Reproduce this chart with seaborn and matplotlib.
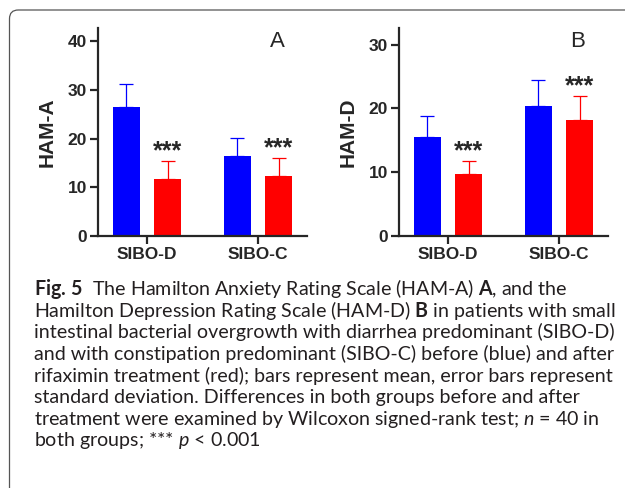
import numpy as np
import pandas as pd
import matplotlib
matplotlib.use("Agg")
import matplotlib.pyplot as plt
from matplotlib.patches import FancyBboxPatch
import seaborn as sns

# values (mean and SD, n = 40 per group)
groups = ["SIBO-D", "SIBO-C"]
phases = ["before", "after"]
ham_a_before = [26.5, 16.5]
ham_a_before_sd = [4.7, 3.7]
ham_a_after = [11.8, 12.4]
ham_a_after_sd = [3.6, 3.7]
ham_d_before = [15.5, 20.3]
ham_d_before_sd = [3.3, 4.1]
ham_d_after = [9.75, 18.15]
ham_d_after_sd = [2.05, 3.85]
stars = ["***", "***"]

caption_lines = [
    r"$\mathbf{Fig.}$$\,$$\mathbf{5}$  The Hamilton Anxiety Rating Scale (HAM-A) $\mathbf{A}$, and the",
    r"Hamilton Depression Rating Scale (HAM-D) $\mathbf{B}$ in patients with small",
    "intestinal bacterial overgrowth with diarrhea predominant (SIBO-D)",
    "and with constipation predominant (SIBO-C) before (blue) and after",
    "rifaximin treatment (red); bars represent mean, error bars represent",
    "standard deviation. Differences in both groups before and after",
    r"treatment were examined by Wilcoxon signed-rank test; $n$ = 40 in",
    "both groups; *** $p$ < 0.001",
]

BLUE = "#0000ff"
RED = "#ff0000"


def make_frame(before, before_sd, after, after_sd):
    return pd.DataFrame({
        "group": groups * 2,
        "phase": [phases[0]] * 2 + [phases[1]] * 2,
        "value": list(before) + list(after),
        "sd": list(before_sd) + list(after_sd),
    })


def draw_panel(ax, df, ylabel, letter, ymax, yticks):
    sns.barplot(data=df, x="group", y="value", hue="phase", order=groups,
                hue_order=phases, palette=[BLUE, RED], width=0.75, gap=0.35,
                errorbar=None, legend=False, ax=ax, linewidth=0, saturation=1)
    # upper-only SD whiskers
    for i, ph in enumerate(phases):
        sub = df[df["phase"] == ph].set_index("group").loc[groups]
        xs = np.arange(len(groups)) + (-0.1875 if i == 0 else 0.1875)
        col = BLUE if i == 0 else RED
        ax.errorbar(xs, sub["value"], yerr=[np.zeros(len(xs)), sub["sd"]],
                    fmt="none", ecolor=col, elinewidth=0.9, capsize=4.7,
                    capthick=0.9, zorder=3)
        if ph == "after":
            for x, top, s in zip(xs, sub["value"] + sub["sd"], stars):
                ax.annotate(s, (x, top), xytext=(0, -2), textcoords="offset points",
                            ha="center", va="bottom", fontsize=18,
                            fontweight="bold", family="Liberation Sans")
    ax.set_xlim(-0.441, 1.441)
    ax.set_ylim(0, ymax)
    ax.set_yticks(yticks)
    ax.set_xlabel("")
    ax.set_ylabel(ylabel, fontsize=15, fontweight="bold", labelpad=8)
    sns.despine(ax=ax)
    for sp in ["left", "bottom"]:
        ax.spines[sp].set_linewidth(1.6)
    ax.tick_params(axis="both", width=1.6, length=6, labelsize=12.5, pad=2)
    for lab in ax.get_xticklabels() + ax.get_yticklabels():
        lab.set_fontweight("bold")
    ax.text(0.856, 0.935, letter, transform=ax.transAxes, ha="center",
            va="center", fontsize=16)


sns.set_style("ticks")
plt.rcParams["font.family"] = ["Liberation Sans", "DejaVu Sans"]
plt.rcParams["mathtext.fontset"] = "custom"
plt.rcParams["mathtext.rm"] = "Lato"
plt.rcParams["mathtext.it"] = "Lato:italic"
plt.rcParams["mathtext.bf"] = "Lato:bold"

fig = plt.figure(figsize=(6.25, 4.88), dpi=100)
W, H = 625, 488

ax_a = fig.add_axes([98 / W, 1 - 236 / H, 209 / W, 208 / H])
ax_b = fig.add_axes([399 / W, 1 - 236 / H, 209 / W, 208 / H])

draw_panel(ax_a, make_frame(ham_a_before, ham_a_before_sd, ham_a_after, ham_a_after_sd),
           "HAM-A", "A", 42.7, [0, 10, 20, 30, 40])
draw_panel(ax_b, make_frame(ham_d_before, ham_d_before_sd, ham_d_after, ham_d_after_sd),
           "HAM-D", "B", 32.6, [0, 10, 20, 30])

# caption
for k, line in enumerate(caption_lines):
    fig.text(34 / W, 1 - (289 + 21.7 * k) / H, line, ha="left", va="center",
             fontsize=14.1, family="Lato", color="#231f20")

# rounded frame, open to the right and bottom
frame = FancyBboxPatch((9.5 / W, -0.2), 1.2, 1 - 10 / H + 0.2,
                       boxstyle="round,pad=0,rounding_size=0.014",
                       transform=fig.transFigure, fill=False,
                       edgecolor="#555555", linewidth=0.9, mutation_aspect=W / H)
fig.patches.append(frame)

fig.savefig("out.png", dpi=100)
